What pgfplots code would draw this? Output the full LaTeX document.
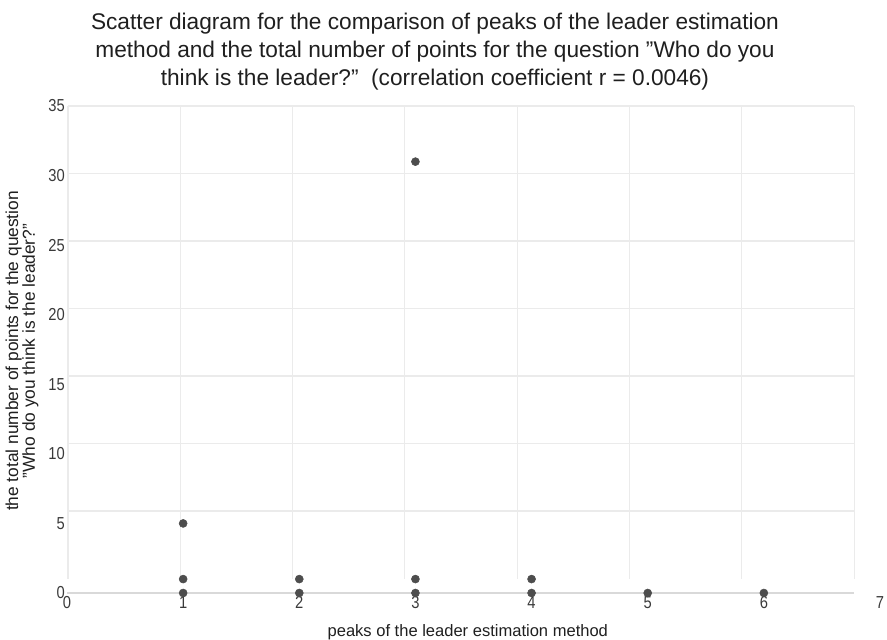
\documentclass[border=0pt]{standalone}
\usepackage{pgfplots}
\pgfplotsset{compat=1.18}
\usepackage{fontspec}
\setmainfont{Liberation Sans}
\newfontfamily\tickfont[FakeStretch=0.85]{Liberation Sans}
\usetikzlibrary{calc}
\definecolor{ptc}{HTML}{4D4D4D}
\definecolor{gridc}{HTML}{EBEBEB}
\definecolor{axc}{HTML}{D9D9D9}
\definecolor{txt}{HTML}{3A3A3A}
\begin{document}
\begin{tikzpicture}
\begin{axis}[
 scale only axis, width=609.75pt, height=365.25pt,
 xmin=0, xmax=7, ymin=0, ymax=35,
 axis line style={draw=none}, major tick length=0pt,
 xtick={0,...,7}, ytick={0,5,...,35},
 ticklabel style={font=\tickfont\fontsize{13}{14}\selectfont, text=txt},
 xticklabel style={anchor=north, yshift=-2.5pt, inner sep=0pt},
 yticklabel style={anchor=east, xshift=-1.5pt, inner sep=0pt},
 /pgf/number format/assume math mode=true,
 clip=false,
 title={Scatter diagram for the comparison of peaks of the leader estimation\\method and the total number of points for the question \symbol{34}Who do you\\think is the leader?\symbol{34}\ \ (correlation coefficient r = 0.0046)},
 title style={at={(axis description cs:0.4526,1)}, anchor=south, yshift=2.5pt, align=center, font=\fontsize{17}{21}\selectfont, text=black!88},
 xlabel={peaks of the leader estimation method},
 xlabel style={at={(axis description cs:0.493,0)}, anchor=center, yshift=-29.25pt, font=\fontsize{12.4}{13}\selectfont, text=black!88},
 ylabel={the total number of points for the question\\\symbol{34}Who do you think is the leader?\symbol{34}},
 ylabel style={at={(axis description cs:-0.0554,0.497)}, anchor=center, align=center, font=\fontsize{13}{12.6}\selectfont, text=black!88},
]
\coordinate (sw) at (rel axis cs:0,0);
\coordinate (ne) at (rel axis cs:1,1);
% vertical grid lines
\draw[gridc, line width=0.9pt] (axis cs:0.0086,1.04) -- (axis cs:0.0086,35);
\draw[gridc, line width=0.9pt] (axis cs:0.976,1.04) -- (axis cs:0.976,35);
\draw[gridc, line width=0.9pt] (axis cs:1.942,1.04) -- (axis cs:1.942,35);
\draw[gridc, line width=0.9pt] (axis cs:2.909,1.04) -- (axis cs:2.909,35);
\draw[gridc, line width=0.9pt] (axis cs:3.876,1.04) -- (axis cs:3.876,35);
\draw[gridc, line width=0.9pt] (axis cs:4.843,1.04) -- (axis cs:4.843,35);
\draw[gridc, line width=0.9pt] (axis cs:5.810,1.04) -- (axis cs:5.810,35);
\draw[gridc, line width=0.9pt] (axis cs:6.777,1.04) -- (axis cs:6.777,35);
% horizontal grid lines
\draw[gridc, line width=0.9pt] (axis cs:0.0086,5.89) -- (axis cs:6.777,5.89);
\draw[gridc, line width=0.9pt] (axis cs:0.0086,10.74) -- (axis cs:6.777,10.74);
\draw[gridc, line width=0.9pt] (axis cs:0.0086,15.60) -- (axis cs:6.777,15.60);
\draw[gridc, line width=0.9pt] (axis cs:0.0086,20.45) -- (axis cs:6.777,20.45);
\draw[gridc, line width=0.9pt] (axis cs:0.0086,25.30) -- (axis cs:6.777,25.30);
\draw[gridc, line width=0.9pt] (axis cs:0.0086,30.15) -- (axis cs:6.777,30.15);
\draw[gridc, line width=0.9pt] (axis cs:0.0086,35) -- (axis cs:6.777,35);
% bottom axis line
\draw[axc, line width=1.4pt] (axis cs:0,0) -- (axis cs:6.777,0);
\addplot[only marks, mark=*, mark size=3pt, color=ptc, mark options={draw=ptc, fill=ptc}] coordinates {
 (1,0) (1,1) (1,5)
 (2,0) (2,1)
 (3,0) (3,1) (3,31)
 (4,0) (4,1)
 (5,0)
 (6,0)
};
\end{axis}
\pgfresetboundingbox
\path[use as bounding box] ($(sw)+(-50.25pt,-35.25pt)$) rectangle ($(ne)+(5.25pt,79.5pt)$);
\end{tikzpicture}
\end{document}
